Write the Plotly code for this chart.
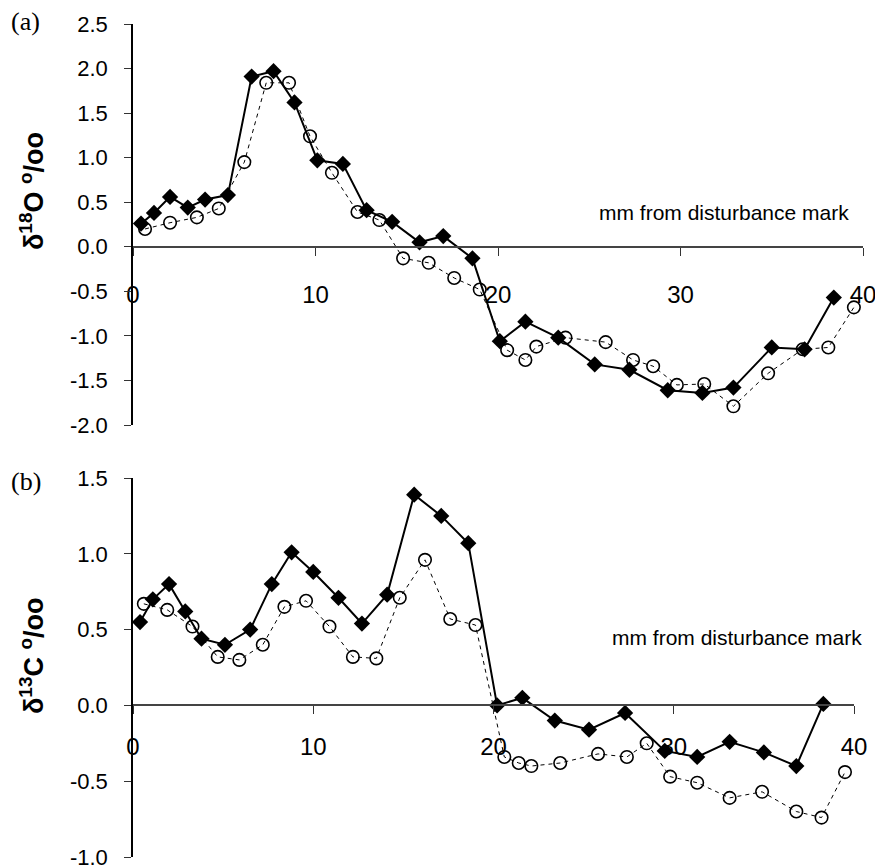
import plotly.graph_objects as go

# ---- data ----
a_dia_x = [0.44,1.15,2.03,3.0,3.95,5.2,6.5,7.7,8.85,10.1,11.5,12.8,14.2,15.7,17.0,18.6,20.1,21.5,23.3,25.3,27.2,29.3,31.2,32.9,35.0,36.8,38.4]
a_dia_y = [0.26,0.38,0.56,0.44,0.53,0.58,1.91,1.97,1.62,0.97,0.93,0.41,0.28,0.05,0.12,-0.13,-1.06,-0.84,-1.02,-1.32,-1.38,-1.61,-1.64,-1.58,-1.13,-1.15,-0.57]
a_cir_x = [0.66,2.03,3.5,4.7,6.1,7.3,8.55,9.7,10.9,12.3,13.5,14.8,16.2,17.6,19.0,20.5,21.5,22.1,23.7,25.9,27.4,28.5,29.8,31.3,32.9,34.8,36.7,38.1,39.5]
a_cir_y = [0.20,0.27,0.33,0.43,0.95,1.84,1.84,1.24,0.83,0.39,0.30,-0.13,-0.18,-0.35,-0.48,-1.16,-1.27,-1.12,-1.02,-1.07,-1.27,-1.34,-1.55,-1.54,-1.79,-1.42,-1.15,-1.13,-0.68]

b_dia_x = [0.39,1.1,2.0,2.9,3.8,5.1,6.5,7.7,8.8,10.0,11.4,12.7,14.1,15.6,17.1,18.6,20.2,21.6,23.4,25.3,27.3,29.5,31.3,33.1,35.0,36.8,38.3]
b_dia_y = [0.55,0.70,0.80,0.62,0.44,0.40,0.50,0.80,1.01,0.88,0.71,0.54,0.73,1.39,1.25,1.07,0.0,0.05,-0.10,-0.16,-0.05,-0.30,-0.34,-0.24,-0.31,-0.40,0.01]
b_cir_x = [0.6,1.9,3.3,4.7,5.9,7.2,8.4,9.6,10.9,12.2,13.5,14.8,16.2,17.6,19.0,20.6,21.4,22.1,23.7,25.8,27.4,28.5,29.8,31.3,33.1,34.9,36.8,38.2,39.5]
b_cir_y = [0.67,0.63,0.52,0.32,0.30,0.40,0.65,0.69,0.52,0.32,0.31,0.71,0.96,0.57,0.53,-0.34,-0.38,-0.40,-0.38,-0.32,-0.34,-0.25,-0.47,-0.51,-0.61,-0.57,-0.70,-0.74,-0.44]

x_ticks = [0, 10, 20, 30, 40]
a_yticks = [-2.0, -1.5, -1.0, -0.5, 0.0, 0.5, 1.0, 1.5, 2.0, 2.5]
a_ylabels = ["-2.0", "-1.5", "-1.0", "-0.5", "0.0", "0.5", "1.0", "1.5", "2.0", "2.5"]
b_yticks = [-1.0, -0.5, 0.0, 0.5, 1.0, 1.5]
b_ylabels = ["-1.0", "-0.5", "0.0", "0.5", "1.0", "1.5"]
a_yrange = [-2.0, 2.5]
b_yrange = [-1.0, 1.5]

W, H = 875, 867
FONT = "Liberation Sans, Arial, sans-serif"

def px_dom_x(l, r):
    return [l / W, r / W]

def px_dom_y(top, bottom):
    return [1 - bottom / H, 1 - top / H]

a_xdom = px_dom_x(133, 863)
a_ydom = px_dom_y(24, 425)
b_xdom = px_dom_x(133, 854)
b_ydom = px_dom_y(478, 857)

def zero_pos(dom, rng):
    return dom[0] + (0 - rng[0]) / (rng[1] - rng[0]) * (dom[1] - dom[0])

fig = go.Figure()

def add_pair(dx, dy, cx, cy, xa, ya):
    fig.add_trace(go.Scatter(x=cx, y=cy, mode="lines+markers", xaxis=xa, yaxis=ya,
                             line=dict(color="black", width=1, dash="4px,4px"),
                             marker=dict(symbol="circle-open", size=12.5, color="black",
                                         line=dict(width=1.6, color="black")),
                             showlegend=False, cliponaxis=False))
    fig.add_trace(go.Scatter(x=dx, y=dy, mode="lines+markers", xaxis=xa, yaxis=ya,
                             line=dict(color="black", width=2),
                             marker=dict(symbol="diamond", size=12.5, color="black"),
                             showlegend=False, cliponaxis=False))

add_pair(a_dia_x, a_dia_y, a_cir_x, a_cir_y, "x", "y")
add_pair(b_dia_x, b_dia_y, b_cir_x, b_cir_y, "x2", "y2")

xcommon = dict(range=[0, 40], tickvals=x_ticks, ticks="outside", ticklen=8, tickcolor="#333",
               showline=True, linecolor="#444", linewidth=1.5, showgrid=False, zeroline=False,
               tickfont=dict(family=FONT, size=24, color="black"), anchor="free",
               automargin=False, ticklabeloverflow="allow")
ycommon = dict(ticks="outside", ticklen=7, tickcolor="#333",
               showline=True, linecolor="black", linewidth=1.5, showgrid=False, zeroline=False,
               tickfont=dict(family=FONT, size=22, color="black"), ticklabelstandoff=12,
               automargin=False, ticklabeloverflow="allow")

fig.update_layout(
    width=W, height=H, margin=dict(l=0, r=0, t=0, b=0, pad=0, autoexpand=False),
    paper_bgcolor="white", plot_bgcolor="white",
    xaxis=dict(xcommon, domain=a_xdom, position=zero_pos(a_ydom, a_yrange), ticklabelstandoff=19),
    yaxis=dict(ycommon, domain=a_ydom, range=a_yrange, anchor="x",
               tickvals=a_yticks, ticktext=a_ylabels),
    xaxis2=dict(xcommon, domain=b_xdom, position=zero_pos(b_ydom, b_yrange), ticklabelstandoff=12),
    yaxis2=dict(ycommon, domain=b_ydom, range=b_yrange, anchor="x2",
                tickvals=b_yticks, ticktext=b_ylabels),
)

SERIF = "Liberation Serif, Times New Roman, serif"
ann = []
ann.append(dict(text="(a)", x=9 / W, y=1 - 22 / H, font=dict(family=SERIF, size=26, color="black"),
                xanchor="left", yanchor="middle"))
ann.append(dict(text="(b)", x=9 / W, y=1 - 481 / H, font=dict(family=SERIF, size=26, color="black"),
                xanchor="left", yanchor="middle"))
ann.append(dict(text="<b>δ<sup>18</sup>O <sup>o</sup>/oo</b>", x=32 / W, y=1 - 191 / H, textangle=-90,
                font=dict(family=FONT, size=27, color="black"), xanchor="center", yanchor="middle"))
ann.append(dict(text="<b>δ<sup>13</sup>C <sup>o</sup>/oo</b>", x=32 / W, y=1 - 656 / H, textangle=-90,
                font=dict(family=FONT, size=27, color="black"), xanchor="center", yanchor="middle"))
ann.append(dict(text="mm from disturbance mark", x=724 / W, y=1 - 212 / H,
                font=dict(family=FONT, size=21, color="black"), xanchor="center", yanchor="middle"))
ann.append(dict(text="mm from disturbance mark", x=737 / W, y=1 - 637 / H,
                font=dict(family=FONT, size=21, color="black"), xanchor="center", yanchor="middle"))
for a in ann:
    a.update(xref="paper", yref="paper", showarrow=False)
fig.update_layout(annotations=ann)

fig.write_html("out.html", config={"displayModeBar": False},
               post_script="document.body.style.margin='0';document.body.style.overflow='hidden';")
